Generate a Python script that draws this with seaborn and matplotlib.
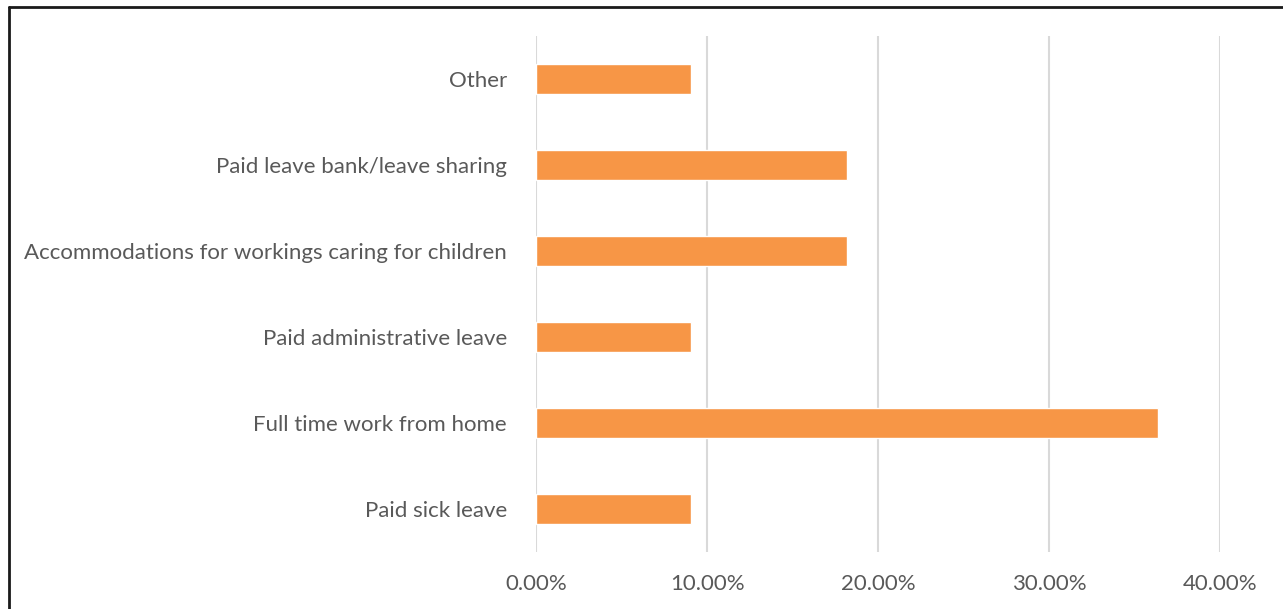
import matplotlib
matplotlib.use("Agg")
import matplotlib.pyplot as plt
from matplotlib.lines import Line2D
from matplotlib.ticker import FuncFormatter
import seaborn as sns
import pandas as pd

categories = [
    "Other",
    "Paid leave bank/leave sharing",
    "Accommodations for workings caring for children",
    "Paid administrative leave",
    "Full time work from home",
    "Paid sick leave",
]
shares = [0.0909, 0.1818, 0.1818, 0.0909, 0.3636, 0.0909]
x_ticks = [0.0, 0.1, 0.2, 0.3, 0.4]

df = pd.DataFrame({"category": categories, "share": shares})

sns.set_theme(style="white")
plt.rcParams["font.family"] = ["Lato", "DejaVu Sans"]

fig = plt.figure(figsize=(12.83, 6.09), dpi=100)
ax = fig.add_axes([0.4178, 0.0936, 0.5331, 0.8473])

sns.barplot(data=df, x="share", y="category", orient="h", color="#F79646",
            saturation=1, width=0.35, ax=ax)

ax.set_xlim(0, 0.4)
ax.set_xticks(x_ticks)
ax.xaxis.set_major_formatter(FuncFormatter(lambda v, p: f"{v*100:.2f}%"))
ax.grid(axis="x", color="#d9d9d9", linewidth=1.5)
ax.set_axisbelow(True)
for s in ax.spines.values():
    s.set_visible(False)
ax.tick_params(axis="both", length=0, labelsize=16, labelcolor="#595959")
ax.tick_params(axis="y", pad=21)
ax.tick_params(axis="x", pad=16)
ax.set_xlabel("")
ax.set_ylabel("")

# frame lines along the top and left edges
fig.add_artist(Line2D([9 / 1283, 9 / 1283], [0, 1 - 7 / 609], transform=fig.transFigure,
                      color="#1a1a1a", linewidth=2))
fig.add_artist(Line2D([9 / 1283, 1], [1 - 7 / 609, 1 - 7 / 609], transform=fig.transFigure,
                      color="#1a1a1a", linewidth=2))

fig.savefig("out.png", dpi=100)
